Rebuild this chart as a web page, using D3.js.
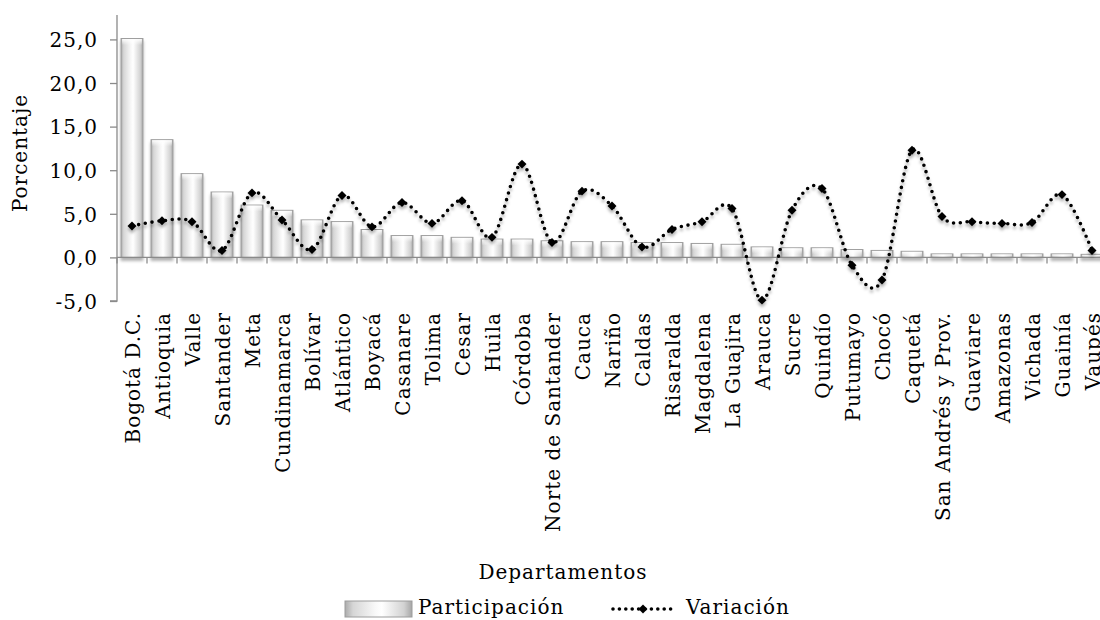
<!DOCTYPE html>
<html><head><meta charset="utf-8">
<script src="https://cdn.jsdelivr.net/npm/d3@7/dist/d3.min.js"></script>
<style>
html,body{margin:0;padding:0;background:#fff;}
svg{display:block;}
text{font-family:"DejaVu Serif","Liberation Serif",serif;fill:#000;}
</style></head><body>
<svg id="c" width="1100" height="620"></svg>
<script>
const categories = ["Bogotá D.C.","Antioquia","Valle","Santander","Meta","Cundinamarca","Bolívar","Atlántico","Boyacá","Casanare","Tolima","Cesar","Huila","Córdoba","Norte de Santander","Cauca","Nariño","Caldas","Risaralda","Magdalena","La Guajira","Arauca","Sucre","Quindío","Putumayo","Chocó","Caquetá","San Andrés y Prov.","Guaviare","Amazonas","Vichada","Guainía","Vaupés"];
const participacion = [25.1,13.5,9.6,7.5,6.0,5.4,4.3,4.1,3.2,2.5,2.5,2.3,2.1,2.1,1.9,1.8,1.8,1.7,1.7,1.6,1.5,1.2,1.1,1.1,0.9,0.8,0.7,0.4,0.4,0.4,0.4,0.4,0.35];
const variacion = [3.6,4.2,4.1,0.8,7.4,4.3,0.9,7.1,3.5,6.3,3.9,6.5,2.3,10.7,1.7,7.6,5.9,1.2,3.2,4.1,5.6,-4.9,5.4,7.9,-0.9,-2.6,12.3,4.7,4.1,3.9,4.0,7.2,0.8];
const yTicks = [-5,0,5,10,15,20,25];
const seriesNames = ["Participación","Variación"];
const axisTitles = {x:"Departamentos", y:"Porcentaje"};

const FS = "20px", LS = "1px";
const svg = d3.select("#c");
const defs = svg.append("defs");
const g1 = defs.append("linearGradient").attr("id","barg").attr("x1","0").attr("x2","1").attr("y1","0").attr("y2","0");
[[0,"#ababab"],[0.12,"#d6d6d6"],[0.45,"#f8f8f8"],[0.55,"#ffffff"],[0.88,"#d2d2d2"],[1,"#a6a6a6"]].forEach(s=>g1.append("stop").attr("offset",s[0]).attr("stop-color",s[1]));
const g2 = defs.append("linearGradient").attr("id","bartop").attr("x1","0").attr("x2","0").attr("y1","0").attr("y2","1");
[[0,"#ffffff",0.95],[1,"#ffffff",0]].forEach(s=>g2.append("stop").attr("offset",s[0]).attr("stop-color",s[1]).attr("stop-opacity",s[2]));
const sh = defs.append("filter").attr("id","sh").attr("x","-20%").attr("y","-20%").attr("width","140%").attr("height","140%");
sh.append("feDropShadow").attr("dx",0).attr("dy",3).attr("stdDeviation",1.8).attr("flood-color","#000").attr("flood-opacity",0.3);

const x = d3.scaleBand().domain(categories).range([117,1107]).paddingInner(0.27).paddingOuter(0.135);
const y = d3.scaleLinear().domain([-5,27.8]).range([301,15]);
const bw = x.bandwidth();
const step = x.step();
const axisColor = "#8a8a8a";

// bars
const bars = svg.append("g").attr("filter","url(#sh)");
bars.selectAll("rect.b").data(categories).join("rect").attr("class","b")
  .attr("x",d=>x(d)).attr("width",bw)
  .attr("y",(d,i)=>y(participacion[i])).attr("height",(d,i)=>y(0)-y(participacion[i]))
  .attr("fill","url(#barg)").attr("stroke","#9c9c9c").attr("stroke-width",1);
bars.selectAll("rect.t").data(categories).join("rect").attr("class","t")
  .attr("x",d=>x(d)+1).attr("width",bw-2)
  .attr("y",(d,i)=>y(participacion[i])+0.5).attr("height",(d,i)=>Math.min(6,y(0)-y(participacion[i])-1))
  .attr("fill","url(#bartop)");

// x axis line + ticks
const ax = svg.append("g");
ax.append("line").attr("x1",117).attr("x2",1107).attr("y1",y(0)).attr("y2",y(0)).attr("stroke",axisColor).attr("stroke-width",1.3);
ax.selectAll("line.tk").data(categories).join("line").attr("class","tk")
  .attr("x1",d=>x(d)-step*0.135).attr("x2",d=>x(d)-step*0.135)
  .attr("y1",y(0)).attr("y2",y(0)+6).attr("stroke",axisColor).attr("stroke-width",1.3);

// y axis
const yAxis = d3.axisLeft(y).tickValues(yTicks).tickSize(7).tickPadding(12)
  .tickFormat(d=>d3.format(".1f")(d).replace(".",",").replace("−","-"));
const ya = svg.append("g").attr("transform","translate(117,0)").call(yAxis);
ya.select(".domain").attr("stroke",axisColor).attr("stroke-width",1.3).attr("d",`M-7,${y(-5)}H0V${y(27.8)}`);
ya.selectAll(".tick line").attr("stroke",axisColor).attr("stroke-width",1.3);
ya.selectAll(".tick text").style("font-size",FS).style("letter-spacing",LS).attr("dy","0.36em");

// category labels
svg.append("g").selectAll("text").data(categories).join("text")
  .attr("transform",d=>`translate(${x(d)+bw/2+1},312) rotate(-90)`)
  .attr("text-anchor","end").attr("dy","0.36em")
  .style("font-size",FS).style("letter-spacing",LS)
  .text(d=>d);

// line
const pts = categories.map((d,i)=>[x(d)+bw/2, y(variacion[i])]);
const lg = svg.append("g").attr("filter","url(#sh)");
lg.append("path").attr("d",d3.line().curve(d3.curveCatmullRom.alpha(0))(pts))
  .attr("fill","none").attr("stroke","#000").attr("stroke-width",3.6)
  .attr("stroke-linecap","round").attr("stroke-dasharray","0 6.8");
const diamond = d3.symbol().type(d3.symbolSquare).size(40);
lg.selectAll("path.m").data(pts).join("path").attr("class","m")
  .attr("transform",p=>`translate(${p[0]},${p[1]}) rotate(45)`)
  .attr("d",diamond).attr("fill","#000");

// axis titles
svg.append("text").attr("transform","translate(20,153) rotate(-90)").attr("text-anchor","middle").attr("dy","0.36em")
  .style("font-size",FS).style("letter-spacing",LS).text(axisTitles.y);
svg.append("text").attr("x",563).attr("y",579).attr("text-anchor","middle")
  .style("font-size",FS).style("letter-spacing",LS).text(axisTitles.x);

// legend
const leg = svg.append("g");
leg.append("rect").attr("x",345).attr("y",601).attr("width",67).attr("height",16)
  .attr("fill","url(#barg)").attr("stroke","#9c9c9c");
leg.append("text").attr("x",418).attr("y",614).style("font-size",FS).style("letter-spacing",LS).text(seriesNames[0]);
leg.append("line").attr("x1",613).attr("x2",677).attr("y1",609).attr("y2",609)
  .attr("stroke","#000").attr("stroke-width",3.6).attr("stroke-linecap","round").attr("stroke-dasharray","0 6.4");
leg.append("path").attr("transform","translate(643,609) rotate(45)").attr("d",diamond).attr("fill","#000");
leg.append("text").attr("x",686).attr("y",614).style("font-size",FS).style("letter-spacing",LS).text(seriesNames[1]);
</script>
</body></html>
